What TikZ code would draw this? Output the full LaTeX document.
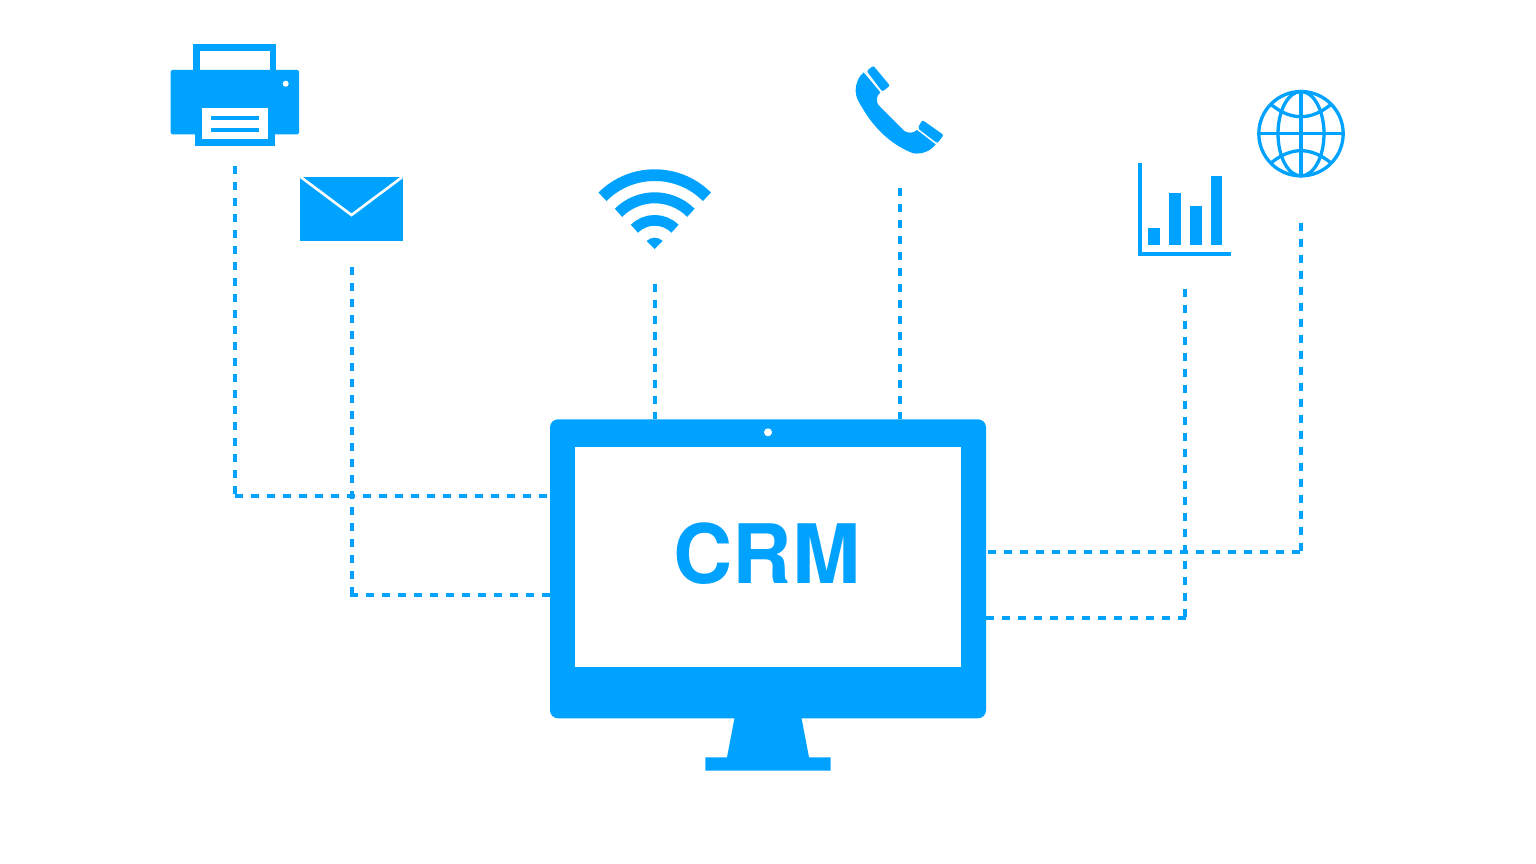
\documentclass[tikz,border=0pt]{standalone}
\usepackage{fontspec}
\setmainfont{TeX Gyre Heros}
\definecolor{crmblue}{HTML}{00A2FF}
\tikzset{
  link/.style={draw=crmblue,line width=4pt,dash pattern=on 8pt off 8pt,line cap=butt},
  monitorbody/.style={fill=crmblue,draw=none,rounded corners=8pt,inner sep=0pt,outer sep=0pt,minimum width=436pt,minimum height=299pt},
  monitorscreen/.style={fill=white,draw=none,inner sep=0pt,outer sep=0pt,minimum width=386pt,minimum height=220pt},
  crmtext/.style={text=crmblue,font=\fontsize{82}{82}\selectfont\bfseries,inner sep=0pt,outer sep=0pt},
  globeline/.style={draw=crmblue,line width=3.3pt,fill=none},
}
\begin{document}
\begin{tikzpicture}[x=1pt,y=-1pt]
\useasboundingbox[fill=white] (0,0) rectangle (1536,864);

% Monitor
\node[monitorbody] (monitor) at (768,568.8) {};
\node[monitorscreen] (screen) at (768,557.3) {};
\fill[white] (768,432.3) circle[radius=4];
\fill[crmblue] (734.7,717) -- (727,757.3) -- (705.3,757.3) -- (705.3,770.7) -- (830.7,770.7) -- (830.7,757.3) -- (809,757.3) -- (801.3,717) -- cycle;
\node[crmtext,anchor=base] (crm) at (767,583) {CRM};

% Printer
\fill[crmblue] (193.3,44) rectangle (276,72);
\fill[white] (200,50.7) rectangle (269.7,72);
\fill[crmblue,rounded corners=1.5pt] (170.7,70) rectangle (299,134.3);
\fill[crmblue] (195,130) rectangle (274.7,146.3);
\fill[white] (201.7,108) rectangle (268,139.3);
\fill[crmblue] (210.7,115.7) rectangle (259,120.3);
\fill[crmblue] (210.7,127.7) rectangle (259,132.3);
\fill[white] (285.7,83.7) circle[radius=3];

% Envelope
\fill[crmblue] (300,176.7) rectangle (403,241.3);
\draw[white,line width=2.6pt] (300.7,177) -- (351.5,215) -- (402.3,177);

% Wi-Fi
\begin{scope}[shift={(654.7,249)}]
\draw[crmblue,line width=11.7pt] (225:73.85) arc[start angle=225,end angle=315,radius=73.85];
\draw[crmblue,line width=11pt] (225:51.2) arc[start angle=225,end angle=315,radius=51.2];
\draw[crmblue,line width=10.7pt] (225:28.65) arc[start angle=225,end angle=315,radius=28.65];
\fill[crmblue] (0,0) -- (225:11.3) arc[start angle=225,end angle=315,radius=11.3] -- cycle;
\end{scope}

% Phone
\begin{scope}[shift={(845,55)},scale=1/3]
\fill[crmblue,rounded corners=2pt] (85,32) -- (135,92) -- (112,110) -- (65,48) -- cycle;
\fill[crmblue,rounded corners=2pt] (232,195) -- (296,240) -- (277,265) -- (218,220) -- cycle;
\fill[crmblue] (56,52) .. controls (40,65) and (32,85) .. (32,108) .. controls (32,125) and (40,140) .. (50,155) .. controls (75,200) and (125,265) .. (205,295) .. controls (230,298) and (255,290) .. (272,268) -- (216,225) .. controls (205,235) and (190,235) .. (178,228) -- (105,155) .. controls (90,140) and (93,125) .. (106,112) -- cycle;
\end{scope}

% Chart
\fill[crmblue] (1137.7,162.7) rectangle (1141.7,255.7);
\fill[crmblue] (1137.7,251.7) rectangle (1231,255.7);
\fill[crmblue] (1148.3,228) rectangle (1160,245);
\fill[crmblue] (1169.3,192.7) rectangle (1181,245);
\fill[crmblue] (1190,206.3) rectangle (1201.7,245);
\fill[crmblue] (1210.7,175.7) rectangle (1222.3,245);

% Globe
\draw[globeline] (1301,133.7) circle[radius=42.2];
\draw[globeline] (1301,133.7) ellipse[x radius=23,y radius=42.2];
\draw[globeline] (1301,91.5) -- (1301,175.9);
\draw[globeline] (1258.8,133.7) -- (1343.2,133.7);
\draw[globeline] (1271.7,105) .. controls (1291.2,120.6) and (1310.5,120.6) .. (1330.3,105);
\draw[globeline] (1271.7,162.4) .. controls (1291.2,146.8) and (1310.5,146.8) .. (1330.3,162.4);

% Connector ends
\coordinate (printerport) at (235,166);
\coordinate (printerbend) at (235,495.7);
\coordinate (printerrun) at (234.7,495.7);
\coordinate (mailport) at (351.5,267);
\coordinate (mailbend) at (351.5,595);
\coordinate (mailrun) at (349.7,595);
\coordinate (wifiport) at (655,284);
\coordinate (phoneport) at (899.5,188);
\coordinate (chartport) at (1184.5,289);
\coordinate (chartbend) at (1184.5,617.7);
\coordinate (chartrun) at (1186,617.7);
\coordinate (globeport) at (1301,223);
\coordinate (globebend) at (1301,552.3);
\coordinate (globerun) at (1302.5,552.3);
\coordinate (globestart) at (988,552.3);

% Connectors
\draw[link] (printerport) -- (printerbend) (printerrun) -- (monitor.west |- printerrun);
\draw[link] (mailport) -- (mailbend) (mailrun) -- (monitor.west |- mailrun);
\draw[link] (wifiport) -- (wifiport |- monitor.north);
\draw[link] (phoneport) -- (phoneport |- monitor.north);
\draw[link] (chartport) -- (chartbend) (monitor.east |- chartrun) -- (chartrun);
\draw[link] (globeport) -- (globebend) (globestart) -- (globerun);
\end{tikzpicture}
\end{document}
